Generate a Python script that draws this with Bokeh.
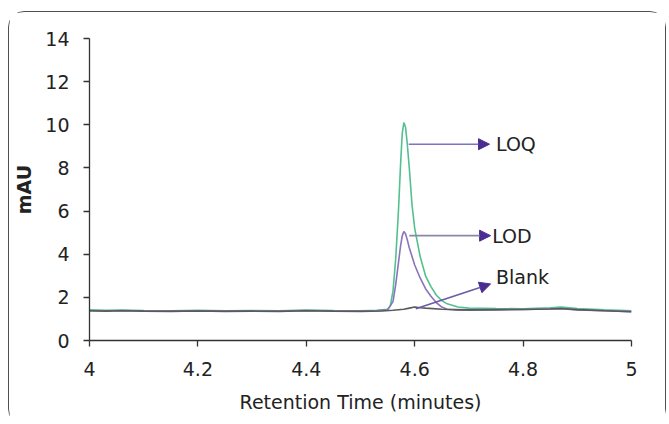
from bokeh.plotting import figure
from bokeh.models import Range1d, FixedTicker, Arrow, NormalHead, Label
from bokeh.embed import file_html
from bokeh.resources import INLINE

# --- data ---
loq_t = [4.00, 4.03, 4.06, 4.10, 4.15, 4.20, 4.25, 4.30, 4.35, 4.40, 4.45, 4.50, 4.53, 4.55,
         4.555, 4.56, 4.565, 4.57, 4.574, 4.577, 4.580, 4.583, 4.586, 4.59, 4.595, 4.60, 4.61,
         4.62, 4.63, 4.64, 4.65, 4.66, 4.68, 4.70, 4.75, 4.80, 4.85, 4.87, 4.90, 4.95, 5.00]
loq_y = [1.42, 1.40, 1.41, 1.39, 1.38, 1.40, 1.38, 1.39, 1.38, 1.41, 1.39, 1.38, 1.40, 1.45,
         1.60, 2.30, 3.80, 6.00, 8.20, 9.60, 10.10, 9.90, 9.20, 8.00, 6.30, 5.20, 3.90,
         3.00, 2.50, 2.10, 1.85, 1.70, 1.55, 1.50, 1.48, 1.47, 1.52, 1.55, 1.48, 1.42, 1.38]

lod_t = [4.00, 4.03, 4.06, 4.10, 4.15, 4.20, 4.25, 4.30, 4.35, 4.40, 4.45, 4.50, 4.53, 4.55,
         4.56, 4.565, 4.57, 4.574, 4.577, 4.580, 4.583, 4.586, 4.59, 4.60, 4.61, 4.62, 4.63,
         4.64, 4.65, 4.66, 4.68, 4.70, 4.75, 4.80, 4.85, 4.87, 4.90, 4.95, 5.00]
lod_y = [1.38, 1.37, 1.39, 1.37, 1.36, 1.38, 1.36, 1.37, 1.36, 1.39, 1.37, 1.36, 1.38, 1.42,
         1.80, 2.60, 3.60, 4.40, 4.85, 5.05, 4.95, 4.70, 4.30, 3.50, 2.90, 2.40, 2.05,
         1.75, 1.55, 1.45, 1.40, 1.41, 1.42, 1.44, 1.46, 1.47, 1.42, 1.38, 1.34]

blank_t = [4.00, 4.03, 4.06, 4.10, 4.15, 4.20, 4.25, 4.30, 4.35, 4.40, 4.45, 4.50, 4.54, 4.56,
           4.58, 4.59, 4.60, 4.61, 4.62, 4.65, 4.70, 4.75, 4.80, 4.85, 4.87, 4.90, 4.95, 5.00]
blank_y = [1.38, 1.36, 1.38, 1.36, 1.35, 1.37, 1.35, 1.36, 1.35, 1.38, 1.36, 1.35, 1.37, 1.40,
           1.45, 1.50, 1.55, 1.52, 1.50, 1.45, 1.42, 1.43, 1.44, 1.46, 1.48, 1.43, 1.38, 1.33]

x_ticks = [4, 4.2, 4.4, 4.6, 4.8, 5]
y_ticks = [0, 2, 4, 6, 8, 10, 12, 14]

# annotations: label, arrow start/end, label anchor
ann_labels = ["LOQ", "LOD", "Blank"]
ann_x0 = [4.589, 4.590, 4.602]
ann_y0 = [9.10, 4.86, 1.47]
ann_x1 = [4.738, 4.740, 4.740]
ann_y1 = [9.10, 4.86, 2.62]
ann_tx = [4.750, 4.743, 4.750]
ann_ty = [9.10, 4.86, 2.95]
ann_line_colors = ["#7d72c6", "#8d87a6", "#6a5aa8"]

FONT = "DejaVu Sans"
FS = "19px"

p = figure(width=658, height=414, output_backend="svg", toolbar_location=None,
           x_range=Range1d(4, 5), y_range=Range1d(0, 14),
           min_border_left=80, min_border_right=36, min_border_top=26, min_border_bottom=86)
p.styles = {"border": "1.5px solid #505050", "border-radius": "16px",
            "margin-left": "8px", "margin-top": "11px"}
p.outline_line_color = None
p.xgrid.visible = False
p.ygrid.visible = False
p.background_fill_color = "white"
p.border_fill_color = "white"

p.line(loq_t, loq_y, line_color="#52c090", line_width=1.6)
p.line(lod_t, lod_y, line_color="#8b73bb", line_width=1.6)
p.line(blank_t, blank_y, line_color="#5a5a5a", line_width=1.6)

for i in range(len(ann_labels)):
    p.add_layout(Arrow(end=NormalHead(size=11, fill_color="#4b2d91", line_color="#4b2d91"),
                       x_start=ann_x0[i], y_start=ann_y0[i], x_end=ann_x1[i], y_end=ann_y1[i],
                       line_color=ann_line_colors[i], line_width=1.6))
    p.add_layout(Label(x=ann_tx[i], y=ann_ty[i], text=ann_labels[i], text_font=FONT,
                       text_font_size=FS, text_color="#222222", text_baseline="middle"))

for ax in (p.xaxis[0], p.yaxis[0]):
    ax.axis_line_color = "#333333"
    ax.axis_line_width = 1.3
    ax.major_tick_line_color = "#333333"
    ax.major_tick_line_width = 1.3
    ax.major_tick_in = 0
    ax.major_tick_out = 6
    ax.minor_tick_line_color = None
    ax.major_label_text_font = FONT
    ax.major_label_text_font_size = FS
    ax.major_label_text_color = "#222222"
    ax.axis_label_text_font = FONT
    ax.axis_label_text_font_size = FS
    ax.axis_label_text_color = "#222222"

p.xaxis.ticker = FixedTicker(ticks=x_ticks)
p.yaxis.ticker = FixedTicker(ticks=y_ticks)
p.xaxis.major_label_overrides = {4: "4", 5: "5"}
p.xaxis.major_label_standoff = 15
p.yaxis.major_label_standoff = 14
p.xaxis.axis_label = "Retention Time (minutes)"
p.xaxis.axis_label_standoff = 12
p.xaxis.axis_label_text_font_style = "normal"
p.yaxis.axis_label = "mAU"
p.yaxis.axis_label_standoff = 7
p.yaxis.axis_label_text_font_style = "bold"

open("out.html", "w").write(file_html(p, INLINE))
